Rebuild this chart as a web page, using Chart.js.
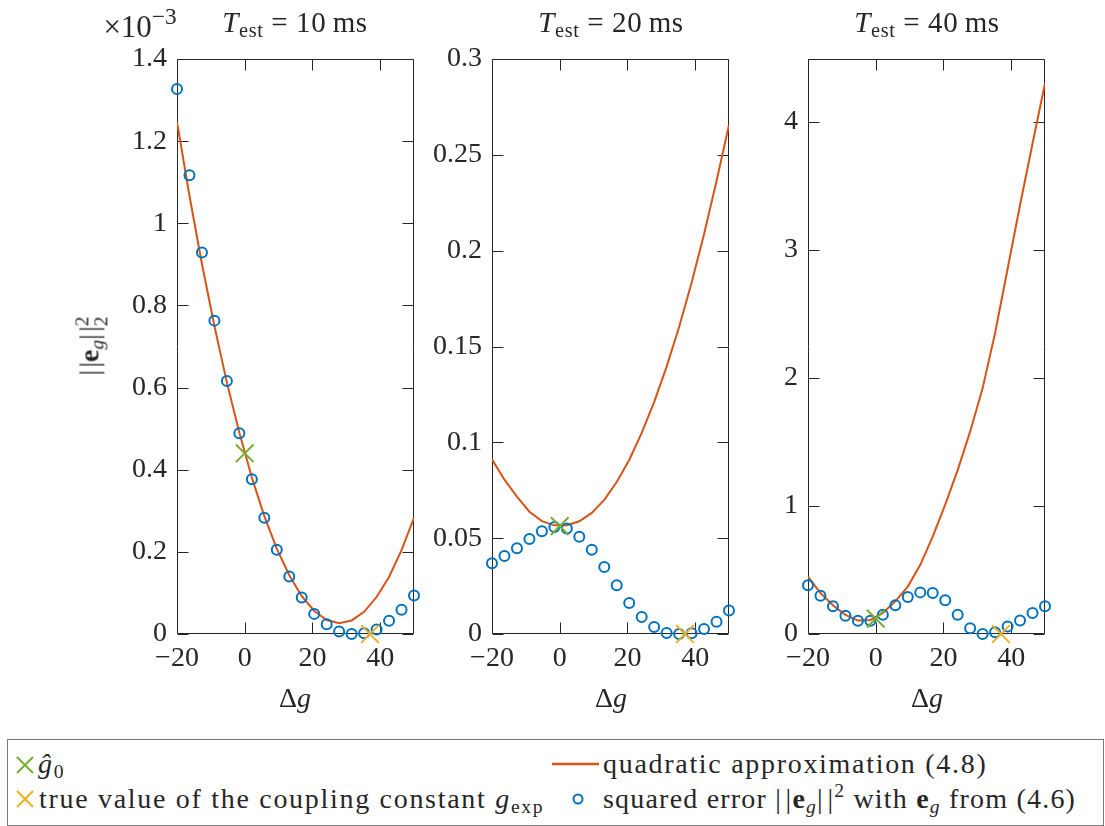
<!DOCTYPE html>
<html>
<head>
<meta charset="utf-8">
<script src="https://cdn.jsdelivr.net/npm/chart.js@4.4.1/dist/chart.umd.min.js"></script>
<style>
  html, body { margin: 0; padding: 0; background: #fff; }
  #wrap { position: relative; width: 1105px; height: 826px; overflow: hidden;
          font-family: 'Liberation Serif', 'Times New Roman', serif; color: #262626; }
  canvas.panel { position: absolute; left: 0; top: 0; }
  .lbl { position: absolute; white-space: nowrap; font-size: 28px; line-height: 1;
         transform: translate(-50%, -50%); }
  .ttl { font-size: 29px; letter-spacing: 0.6px; }
  .lbl sub, #legend sub { font-size: 0.7em; vertical-align: -0.28em; line-height: 0; }
  .lbl sup, #legend sup { font-size: 0.7em; vertical-align: 0.55em; line-height: 0; }
  .ss { display: inline-block; vertical-align: -0.45em; font-size: 0.7em; line-height: 0.95; text-align: left; }
  .ss span { display: block; }
  #legend { position: absolute; left: 7px; top: 739px; width: 1097px; height: 87px;
            box-sizing: border-box; border: 1px solid #777; background: #fff; }
  .item { position: absolute; white-space: nowrap; font-size: 28px; line-height: 1;
          letter-spacing: 1.7px; transform: translateY(-50%); }
  .mk { position: absolute; }
</style>
</head>
<body>
<div id="wrap">
  <canvas class="panel" id="p10" width="1105" height="720"></canvas>
  <canvas class="panel" id="p20" width="1105" height="720"></canvas>
  <canvas class="panel" id="p40" width="1105" height="720"></canvas>

  <div class="lbl" style="left:140px; top:26px; font-size:31px;">&times;10<sup style="font-size:0.75em;">&minus;3</sup></div>
  <div class="lbl ttl" style="left:295px; top:22px;"><i>T</i><sub>est</sub>&nbsp;=&nbsp;10&thinsp;ms</div>
  <div class="lbl ttl" style="left:611px; top:22px;"><i>T</i><sub>est</sub>&nbsp;=&nbsp;20&thinsp;ms</div>
  <div class="lbl ttl" style="left:927px; top:22px;"><i>T</i><sub>est</sub>&nbsp;=&nbsp;40&thinsp;ms</div>

  <div class="lbl" style="left:92px; top:346px; transform: translate(-50%,-50%) rotate(-90deg);">|&#8202;|<b>e</b><sub><i>g</i></sub>|&#8202;|<span class="ss"><span>2</span><span>2</span></span></div>

  <div class="lbl" style="left:295px; top:698px;">&Delta;<i>g</i></div>
  <div class="lbl" style="left:611px; top:698px;">&Delta;<i>g</i></div>
  <div class="lbl" style="left:927px; top:698px;">&Delta;<i>g</i></div>

  <div id="legend">
    <svg class="mk" style="left:7px; top:15px;" width="20" height="20"><path d="M2 2 L18 18 M18 2 L2 18" stroke="#77AC30" stroke-width="2" fill="none"/></svg>
    <div class="item" style="left:30px; top:24px;"><i>&#285;</i><sub>0</sub></div>
    <svg class="mk" style="left:7px; top:49px;" width="20" height="20"><path d="M2 2 L18 18 M18 2 L2 18" stroke="#EDB120" stroke-width="2" fill="none"/></svg>
    <div class="item" style="left:31px; top:59px;">true value of the coupling constant <i>g</i><sub>exp</sub></div>
    <svg class="mk" style="left:544px; top:14px;" width="48" height="20"><path d="M0 10 L47 10" stroke="#D95319" stroke-width="2.5" fill="none"/></svg>
    <div class="item" style="left:595px; top:24px;">quadratic approximation (4.8)</div>
    <svg class="mk" style="left:560px; top:49px;" width="20" height="20"><circle cx="10" cy="10" r="4.5" stroke="#0072BD" stroke-width="2" fill="none"/></svg>
    <div class="item" style="left:595px; top:59px; letter-spacing:1.2px;">squared error |&#8202;|<b>e</b><sub><i>g</i></sub>|&#8202;|<sup>2</sup> with <b>e</b><sub><i>g</i></sub> from (4.6)</div>
  </div>
</div>

<script>
// sampled coupling offsets (x positions of the circles)
const deltaG = [-20, -16.32, -12.63, -8.95, -5.26, -1.58, 2.11, 5.79, 9.47, 13.16,
                16.84, 20.53, 24.21, 27.89, 31.58, 35.26, 38.95, 42.63, 46.32, 50];

// T_est = 10 ms (values in units of 1e-3)
const errT10  = [1.327, 1.117, 0.929, 0.763, 0.616, 0.489, 0.377, 0.283, 0.205, 0.140,
                 0.089, 0.049, 0.024, 0.006, 0.000, 0.002, 0.011, 0.032, 0.059, 0.094];
const quadT10 = [1.247, 1.067, 0.901, 0.750, 0.612, 0.490, 0.381, 0.287, 0.208, 0.143,
                 0.092, 0.056, 0.034, 0.026, 0.033, 0.054, 0.090, 0.139, 0.204, 0.283];

// T_est = 20 ms
const errT20  = [0.0369, 0.0407, 0.0447, 0.0496, 0.0536, 0.0558, 0.0550, 0.0508, 0.0440, 0.0350,
                 0.0254, 0.0162, 0.0089, 0.0037, 0.0005, 0.0000, 0.0004, 0.0026, 0.0064, 0.0122];
const quadT20 = [0.0911, 0.0805, 0.0717, 0.0638, 0.0589, 0.0567, 0.0567, 0.0588, 0.0632, 0.0700,
                 0.0793, 0.0908, 0.1049, 0.1210, 0.1395, 0.1602, 0.1833, 0.2086, 0.2363, 0.2656];

// T_est = 40 ms
const errT40  = [0.380, 0.299, 0.216, 0.143, 0.104, 0.104, 0.151, 0.224, 0.289, 0.325,
                 0.320, 0.263, 0.151, 0.044, 0.000, 0.013, 0.059, 0.106, 0.164, 0.216];
const quadT40 = [0.448, 0.320, 0.225, 0.150, 0.105, 0.110, 0.165, 0.255, 0.370, 0.540,
                 0.760, 1.010, 1.280, 1.580, 1.920, 2.350, 2.850, 3.350, 3.830, 4.300];

// estimated g0 and true coupling constant (x, y per panel)
const g0HatX = [0, 0, 0];
const g0HatY = [0.44, 0.0563, 0.12];
const gExpX  = [37, 37, 37];
const gExpY  = [0, 0, 0];

// tick labels
const xTicks    = [-20, 0, 20, 40];
const yTicksT10 = [0, 0.2, 0.4, 0.6, 0.8, 1, 1.2, 1.4];
const yTicksT20 = [0, 0.05, 0.1, 0.15, 0.2, 0.25, 0.3];
const yTicksT40 = [0, 1, 2, 3, 4];

const BLUE = '#0072BD', ORANGE = '#D95319', YELLOW = '#EDB120', GREEN = '#77AC30';
const AXIS = '#262626';
const TICK_LEN = 11;

Chart.defaults.font.family = "'Liberation Serif', 'Times New Roman', serif";
Chart.defaults.font.size = 28;
Chart.defaults.color = AXIS;

// MATLAB style box with inward ticks on all four sides
const boxTicks = {
  id: 'boxTicks',
  beforeDatasetsDraw(chart) {
    const { ctx, chartArea: a, scales: { x, y } } = chart;
    const L = Math.round(a.left) + 0.5, R = Math.round(a.right) - 0.5;
    const T = Math.round(a.top) + 0.5, B = Math.round(a.bottom) - 0.5;
    ctx.save();
    ctx.strokeStyle = AXIS;
    ctx.lineWidth = 1;
    ctx.beginPath();
    ctx.rect(L, T, R - L, B - T);
    x.ticks.forEach(t => {
      const px = Math.round(x.getPixelForValue(t.value)) + 0.5;
      ctx.moveTo(px, B); ctx.lineTo(px, B - TICK_LEN);
      ctx.moveTo(px, T); ctx.lineTo(px, T + TICK_LEN);
    });
    y.ticks.forEach(t => {
      const py = Math.round(y.getPixelForValue(t.value)) + 0.5;
      ctx.moveTo(L, py); ctx.lineTo(L + TICK_LEN, py);
      ctx.moveTo(R, py); ctx.lineTo(R - TICK_LEN, py);
    });
    ctx.stroke();
    ctx.restore();
  }
};

function fmt(v) {
  const s = String(+v.toFixed(3));
  return v < 0 ? '\u2212' + s.slice(1) : s;
}

function toPoints(xs, ys) {
  return xs.map((xv, i) => ({ x: xv, y: ys[i] }));
}

function makePanel(id, err, quad, k, yMax, yTicks, left, right) {
  new Chart(document.getElementById(id), {
    type: 'scatter',
    data: {
      datasets: [
        {
          label: 'true value',
          data: [{ x: gExpX[k], y: gExpY[k] }],
          pointStyle: 'crossRot', pointRadius: 12.5, borderColor: YELLOW, borderWidth: 2,
          clip: false, order: 1
        },
        {
          label: 'g0 hat',
          data: [{ x: g0HatX[k], y: g0HatY[k] }],
          pointStyle: 'crossRot', pointRadius: 12.5, borderColor: GREEN, borderWidth: 2,
          clip: false, order: 2
        },
        {
          label: 'squared error',
          data: toPoints(deltaG, err),
          pointStyle: 'circle', pointRadius: 5, borderColor: BLUE, borderWidth: 2,
          backgroundColor: 'rgba(0,0,0,0)', clip: false, order: 3
        },
        {
          label: 'quadratic approximation',
          type: 'line',
          data: toPoints(deltaG, quad),
          borderColor: ORANGE, borderWidth: 2, pointRadius: 0, tension: 0,
          fill: false, order: 4
        }
      ]
    },
    options: {
      responsive: false,
      animation: false,
      events: [],
      layout: { padding: { left: left - 100, right: 1105 - right, top: 59, bottom: 26 } },
      plugins: { legend: { display: false }, tooltip: { enabled: false } },
      scales: {
        x: {
          type: 'linear', min: -20, max: 50,
          grid: { display: false, drawTicks: false },
          border: { display: false },
          ticks: { padding: 8, maxRotation: 0, callback: v => fmt(v) },
          afterBuildTicks: s => { s.ticks = xTicks.map(v => ({ value: v })); },
          afterFit: s => { s.height = 60; }
        },
        y: {
          type: 'linear', min: 0, max: yMax,
          grid: { display: false, drawTicks: false },
          border: { display: false },
          ticks: { padding: 10, callback: v => fmt(v) },
          afterBuildTicks: s => { s.ticks = yTicks.map(v => ({ value: v })); },
          afterFit: s => { s.width = 100; }
        }
      }
    },
    plugins: [boxTicks]
  });
}

makePanel('p10', errT10, quadT10, 0, 1.4, yTicksT10, 177, 414);
makePanel('p20', errT20, quadT20, 1, 0.3, yTicksT20, 492, 729);
makePanel('p40', errT40, quadT40, 2, 4.49, yTicksT40, 808, 1045);
</script>
</body>
</html>
